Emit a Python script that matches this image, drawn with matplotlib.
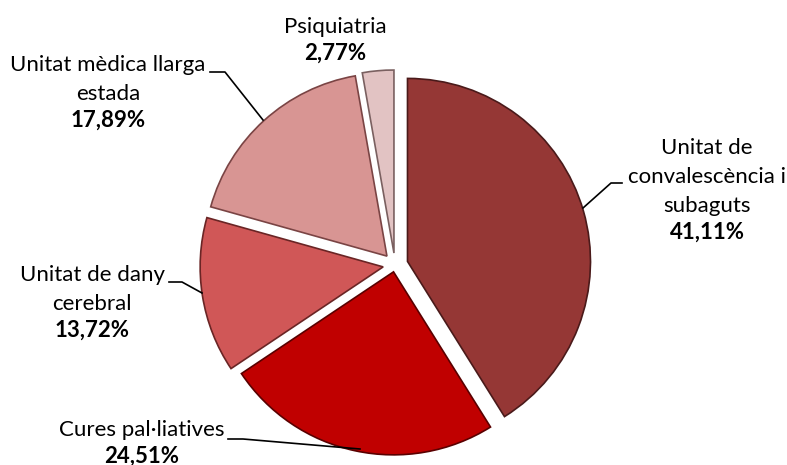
import matplotlib.pyplot as plt

# Dades
labels = ['Unitat de\nconvalescència i\nsubaguts', 'Cures pal·liatives',
          'Unitat de dany\ncerebral', 'Unitat mèdica llarga\nestada', 'Psiquiatria']
values = [41.11, 24.51, 13.72, 17.89, 2.77]
pct_text = ['41,11%', '24,51%', '13,72%', '17,89%', '2,77%']
colors = ['#953735', '#C00000', '#D05757', '#D89593', '#E2C3C3']
edges = ['#4a1a1a', '#5a0000', '#6a2525', '#7a4444', '#7a6060']

W, H = 787, 465
fig = plt.figure(figsize=(W / 100, H / 100), dpi=100)
ax = fig.add_axes([0, 0, 1, 1])
ax.set_xlim(0, W)
ax.set_ylim(0, H)
ax.set_aspect('equal')
ax.axis('off')

# l'explosió va en les mateixes unitats que el radi (píxels)
wedges, _ = ax.pie(values, colors=colors, startangle=90, counterclock=False,
                   explode=[13, 7, 12, 12, 12], radius=183, center=(395, H - 265),
                   wedgeprops=dict(linewidth=1.2))
for w, e in zip(wedges, edges):
    w.set_edgecolor(e)
ax.set_xlim(0, W)
ax.set_ylim(0, H)

font = 'Lato'
fs = 16
# posicions de les etiquetes (x centre, y primera línia) en píxels
label_pos = [(707, 148), (142, 430), (92, 275), (108, 65), (335, 27)]
line_h = 29
for lab, pct, (x, y) in zip(labels, pct_text, label_pos):
    n = lab.count('\n') + 1
    for i, line in enumerate(lab.split('\n')):
        ax.text(x, H - (y + i * line_h), line, ha='center', va='center',
                fontsize=fs, family=font, color='black')
    ax.text(x, H - (y + n * line_h - 3), pct, ha='center', va='center',
            fontsize=fs, family=font, fontweight='bold', color='black')

# línies guia
leaders = [
    [(622, 183), (611, 183), (583, 208)],
    [(228, 439), (243, 439), (360, 449)],
    [(169, 282), (182, 282), (202, 293)],
    [(210, 72), (225, 72), (263, 120)],
]
for pts in leaders:
    xs = [p[0] for p in pts]
    ys = [H - p[1] for p in pts]
    ax.plot(xs, ys, color='black', linewidth=1.2)

fig.savefig('out.png', dpi=100)
